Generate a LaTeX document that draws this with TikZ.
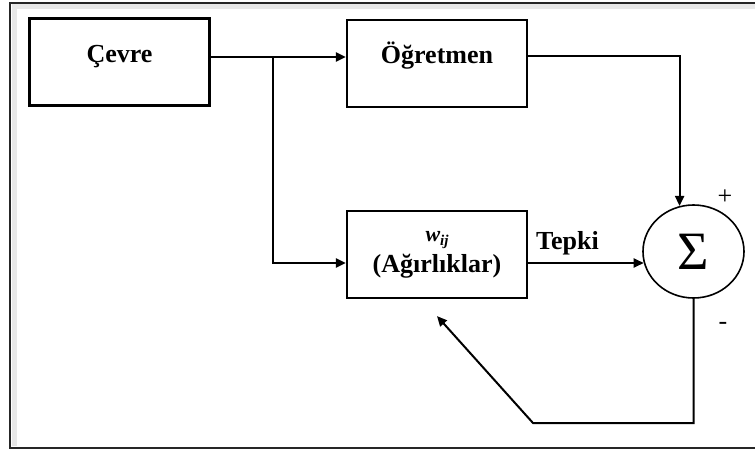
\documentclass[tikz,border=0pt]{standalone}
\usepackage{fontspec}
\setmainfont{Liberation Serif}
\usepackage{tikz}
\usetikzlibrary{arrows.meta, positioning, shapes.geometric}

\begin{document}
\begin{tikzpicture}[
        x=1pt, y=-1pt,
        box/.style={draw, line width=2.2pt, minimum width=180pt, minimum height=87pt,
            font=\fontsize{26}{30}\selectfont\bfseries},
        topbox/.style={box, text height=17pt, text depth=17pt},
        arr/.style={line width=2pt, -{Triangle[length=10pt, width=9pt]}},
        sign/.style={font=\fontsize{26}{28}\selectfont}
    ]
    \useasboundingbox (0,0) rectangle (755,450);

    % Frame
    \begin{scope}
        \clip (0,0) rectangle (755,450);
        \draw[gray!18, line width=5pt] (14,446) -- (14,6.5) -- (760,6.5);
        \draw[black!85, line width=2.2pt] (10,3) rectangle (770,448);
    \end{scope}

    % Blocks
    \node[topbox] (cevre) at (119.5,62) {Çevre};
    \node[topbox] (ogretmen) at (437,63.5) {Öğretmen};
    \node[box, align=center] (agirlik) at (437,254.5)
        {{\fontsize{22}{24}\selectfont\itshape w\raisebox{-4pt}{\fontsize{15}{15}\selectfont ij}}\\[1pt](Ağırlıklar)};
    \node[draw, ellipse, line width=1.6pt, minimum width=101pt, minimum height=93pt,
        inner sep=0pt, font=\fontsize{54}{54}\selectfont] (toplam) at (693.5,251.5) {Σ};

    % Labels
    \node[font=\fontsize{26}{30}\selectfont\bfseries, anchor=base] (tepki) at (567.5,249) {Tepki};
    \node[sign] (arti) at (725,197) {+};
    \node[sign] (eksi) at (723,326) {-};

    % Connectors
    \coordinate (ayrim) at (273,57);
    \coordinate (geri) at (533,423);
    \draw[arr] ([yshift=5pt]cevre.east) -- ([yshift=5pt]cevre.east -| ogretmen.west);
    \draw[arr] (ayrim) |- ([yshift=-8.5pt]agirlik.west);
    \draw[arr] ([yshift=7.5pt]ogretmen.east) -| (toplam.107);
    \draw[arr] ([yshift=-8.5pt]agirlik.east) -- ([yshift=-8.5pt]agirlik.east -| toplam.193);
    \draw[arr] (toplam.south) |- (geri) -- ([yshift=-17pt]agirlik.south);

\end{tikzpicture}
\end{document}
